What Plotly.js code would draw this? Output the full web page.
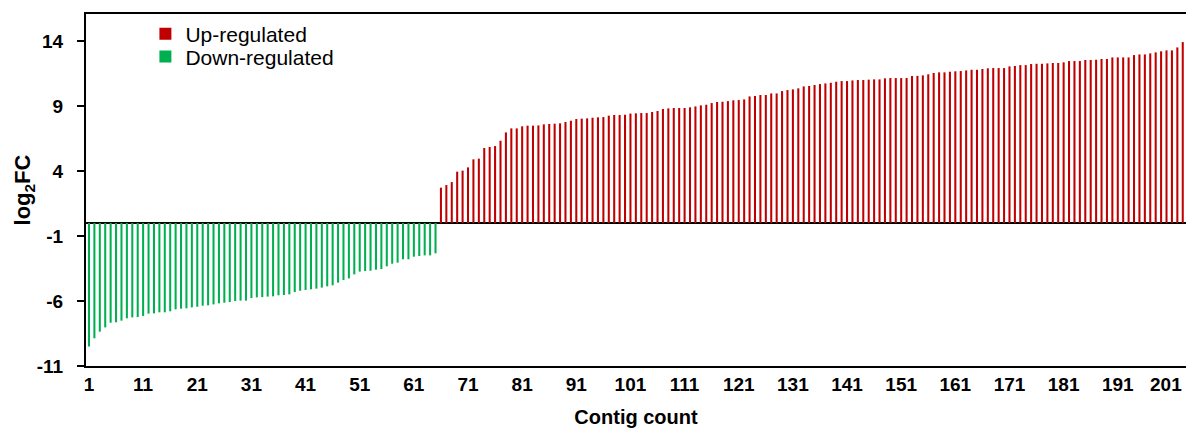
<!DOCTYPE html>
<html>
<head>
<meta charset="utf-8">
<script src="https://cdn.plot.ly/plotly-3.0.1.min.js"></script>
<style>
html,body{margin:0;padding:0;background:#fff;overflow:hidden;}
#chart{width:1186px;height:428px;}
</style>
</head>
<body>
<div id="chart"></div>
<script>
// log2 fold change per contig, sorted
const downValues = [
  -9.50, -8.87, -8.36, -8.03, -7.67, -7.64, -7.51, -7.33, -7.26, -7.23,
  -7.15, -6.97, -6.95, -6.87, -6.87, -6.79, -6.64, -6.59, -6.56, -6.49,
  -6.44, -6.36, -6.33, -6.26, -6.18, -6.13, -6.08, -6.00, -5.97, -5.97,
  -5.77, -5.72, -5.70, -5.66, -5.64, -5.56, -5.54, -5.49, -5.31, -5.21,
  -5.15, -5.10, -5.05, -4.97, -4.87, -4.79, -4.59, -4.38, -4.26, -3.95,
  -3.74, -3.69, -3.67, -3.59, -3.54, -3.33, -3.13, -3.05, -2.79, -2.79,
  -2.59, -2.54, -2.49, -2.49, -2.33
];
const upValues = [
  2.72, 2.92, 3.15, 3.95, 4.03, 4.28, 4.90, 4.95, 5.77, 5.85,
  5.92, 6.33, 6.97, 7.28, 7.28, 7.44, 7.49, 7.49, 7.51, 7.59,
  7.62, 7.64, 7.67, 7.77, 7.87, 8.00, 8.03, 8.05, 8.10, 8.13,
  8.15, 8.26, 8.31, 8.31, 8.33, 8.42, 8.44, 8.46, 8.46, 8.54,
  8.62, 8.77, 8.82, 8.85, 8.85, 8.85, 8.90, 8.97, 9.05, 9.10,
  9.23, 9.31, 9.33, 9.38, 9.44, 9.46, 9.51, 9.74, 9.77, 9.85,
  9.85, 9.97, 9.97, 10.15, 10.23, 10.28, 10.36, 10.51, 10.54, 10.62,
  10.69, 10.74, 10.79, 10.87, 10.92, 10.92, 10.97, 11.00, 11.00, 11.03,
  11.05, 11.05, 11.13, 11.15, 11.15, 11.15, 11.16, 11.31, 11.32, 11.36,
  11.44, 11.54, 11.59, 11.59, 11.64, 11.67, 11.69, 11.74, 11.79, 11.79,
  11.85, 11.90, 11.92, 11.92, 11.92, 12.05, 12.08, 12.15, 12.15, 12.23,
  12.25, 12.25, 12.28, 12.31, 12.31, 12.36, 12.46, 12.46, 12.46, 12.54,
  12.54, 12.56, 12.62, 12.62, 12.74, 12.74, 12.74, 12.74, 12.92, 12.97,
  12.97, 13.05, 13.13, 13.21, 13.28, 13.28, 13.51, 13.92
];
const seriesNames = ["Up-regulated", "Down-regulated"];
// axis tick labels; the last one ("201") sits at the right edge and is drawn as an annotation nudged inward
const xTickVals = [1, 11, 21, 31, 41, 51, 61, 71, 81, 91, 101, 111, 121, 131, 141, 151, 161, 171, 181, 191];
const xTickText = ["1", "11", "21", "31", "41", "51", "61", "71", "81", "91", "101", "111", "121", "131", "141", "151", "161", "171", "181", "191"];
const xEdgeTickVal = 201;
const xEdgeTickText = "201";
const yTickVals = [-11, -6, -1, 4, 9, 14];
const yTickText = ["-11", "-6", "-1", "4", "9", "14"];

const downX = downValues.map((v, i) => i + 1);
const upX = upValues.map((v, i) => downValues.length + i + 1);

const FONT = "Liberation Sans, Arial, sans-serif";
const yRange = [-11, 16.08];
const tickFont = {family: FONT, size: 19, color: "#000", weight: "bold"};

const traces = [
  {type: "bar", name: seriesNames[0], x: upX, y: upValues, width: 0.38,
   marker: {color: "#C00000", line: {width: 0}}, legend: "legend"},
  {type: "bar", name: seriesNames[1], x: downX, y: downValues, width: 0.38,
   marker: {color: "#00B050", line: {width: 0}}, legend: "legend2"}
];

const legendBase = {
  xanchor: "left", yanchor: "middle",
  font: {family: FONT, size: 21, color: "#000"},
  bgcolor: "rgba(0,0,0,0)", borderwidth: 0
};

const layout = {
  width: 1186, height: 428,
  margin: {l: 86, r: 0, t: 14, b: 62},
  paper_bgcolor: "#fff", plot_bgcolor: "#fff",
  font: {family: FONT, color: "#000"},
  showlegend: true,
  barmode: "overlay",
  legend: Object.assign({x: 0.054, y: 0.943}, legendBase),
  legend2: Object.assign({x: 0.054, y: 0.878}, legendBase),
  xaxis: {
    range: [0.45, 203.6],
    showgrid: false, zeroline: false,
    showline: true, linecolor: "#000", linewidth: 2, mirror: true,
    ticks: "", tickmode: "array", tickvals: xTickVals, ticktext: xTickText,
    tickfont: tickFont,
    title: {text: "<b>Contig count</b>", font: {family: FONT, size: 20, color: "#000"}, standoff: 16}
  },
  yaxis: {
    range: yRange,
    showgrid: false,
    zeroline: true, zerolinecolor: "#000", zerolinewidth: 2,
    showline: true, linecolor: "#000", linewidth: 2, mirror: false,
    ticks: "outside", ticklen: 7, tickwidth: 1.5, tickcolor: "#000",
    ticklabelstandoff: 10,
    tickmode: "array", tickvals: yTickVals, ticktext: yTickText,
    tickfont: tickFont,
    title: {text: "<b>log<sub>2</sub>FC</b>", font: {family: FONT, size: 22, color: "#000"}, standoff: 0}
  },
  yaxis2: {
    overlaying: "y", side: "left", range: yRange,
    showgrid: false, zeroline: false, showline: false,
    ticks: "inside", ticklen: 6, tickwidth: 1.5, tickcolor: "#000",
    tickmode: "array", tickvals: yTickVals, showticklabels: false
  },
  annotations: [
    {x: xEdgeTickVal, xref: "x", y: 0, yref: "paper", text: "<b>" + xEdgeTickText + "</b>",
     showarrow: false, xanchor: "center", yanchor: "middle", xshift: -6, yshift: -18,
     font: {family: FONT, size: 19, color: "#000"}}
  ]
};

Plotly.newPlot("chart", traces, layout, {displayModeBar: false, staticPlot: true});
</script>
</body>
</html>
